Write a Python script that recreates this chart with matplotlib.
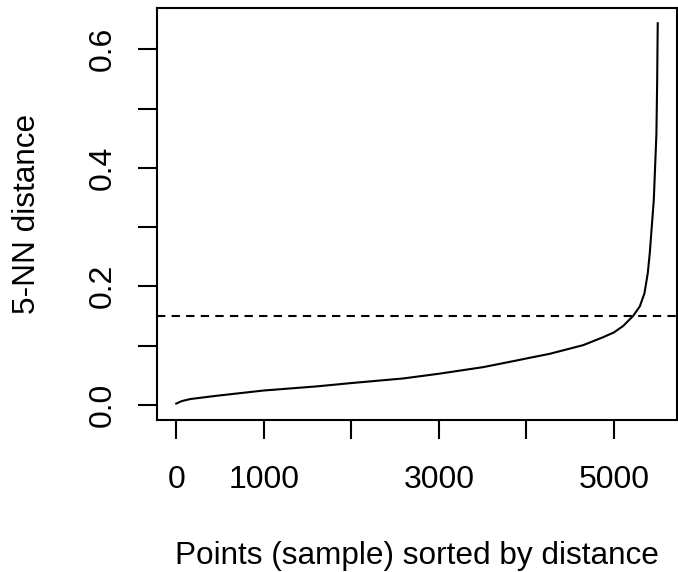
import matplotlib
matplotlib.use("Agg")
import matplotlib.pyplot as plt
from matplotlib.ticker import FixedLocator, FixedFormatter

plt.rcParams['font.family'] = ['Liberation Sans', 'DejaVu Sans']

# Sorted 5-NN distances
point_index = [0, 60, 160, 464, 997, 1606, 2001, 2595, 3000, 3508, 3889, 4000, 4269,
               4650, 4878, 5000, 5107, 5221, 5297, 5350, 5388, 5411, 5434, 5457,
               5472, 5487, 5495, 5502]
knn_dist = [0.002, 0.006, 0.0096, 0.0152, 0.024, 0.031, 0.0366, 0.0444, 0.0523, 0.0635,
            0.0747, 0.0781, 0.086, 0.1006, 0.114, 0.122, 0.133, 0.150, 0.166,
            0.188, 0.222, 0.256, 0.301, 0.346, 0.402, 0.458, 0.542, 0.644]
eps_threshold = 0.15

x_ticks = [0, 1000, 2000, 3000, 4000, 5000]
x_tick_labels = ["0", "1000", "", "3000", "", "5000"]
y_ticks = [0.0, 0.1, 0.2, 0.3, 0.4, 0.5, 0.6]
y_tick_labels = ["0.0", "", "0.2", "", "0.4", "", "0.6"]

W, H = 678, 572
fig = plt.figure(figsize=(W / 100, H / 100), dpi=100)
left, right, top, bottom = 157, 677, 8, 420
ax = fig.add_axes([left / W, (H - bottom) / H, (right - left) / W, (bottom - top) / H])

ax.plot(point_index, knn_dist, color='black', lw=1.5)
ax.axhline(eps_threshold, color='black', lw=1.5, ls=(0, (4, 3)))

xmin, xmax = 0, max(point_index)
ymin, ymax = 0.0, max(knn_dist)
dx = 0.04 * (xmax - xmin)
dy = 0.04 * (ymax - ymin)
ax.set_xlim(xmin - dx, xmax + dx)
ax.set_ylim(ymin - dy, ymax + dy)

ax.xaxis.set_major_locator(FixedLocator(x_ticks))
ax.xaxis.set_major_formatter(FixedFormatter(x_tick_labels))
ax.yaxis.set_major_locator(FixedLocator(y_ticks))
ax.yaxis.set_major_formatter(FixedFormatter(y_tick_labels))

for s in ['left', 'bottom', 'right', 'top']:
    ax.spines[s].set_linewidth(1.5)

ax.tick_params(axis='both', direction='out', length=13.5, width=1.5,
               labelsize=23)
ax.tick_params(axis='x', pad=19)
ax.tick_params(axis='y', pad=15)
for lab in ax.get_yticklabels():
    lab.set_rotation(90)
    lab.set_va('center')

ax.set_xlabel("Points (sample) sorted by distance", fontsize=22.7, labelpad=33)
ax.set_ylabel("5-NN distance", fontsize=22.7, labelpad=33)

fig.savefig("out.png", dpi=100)
